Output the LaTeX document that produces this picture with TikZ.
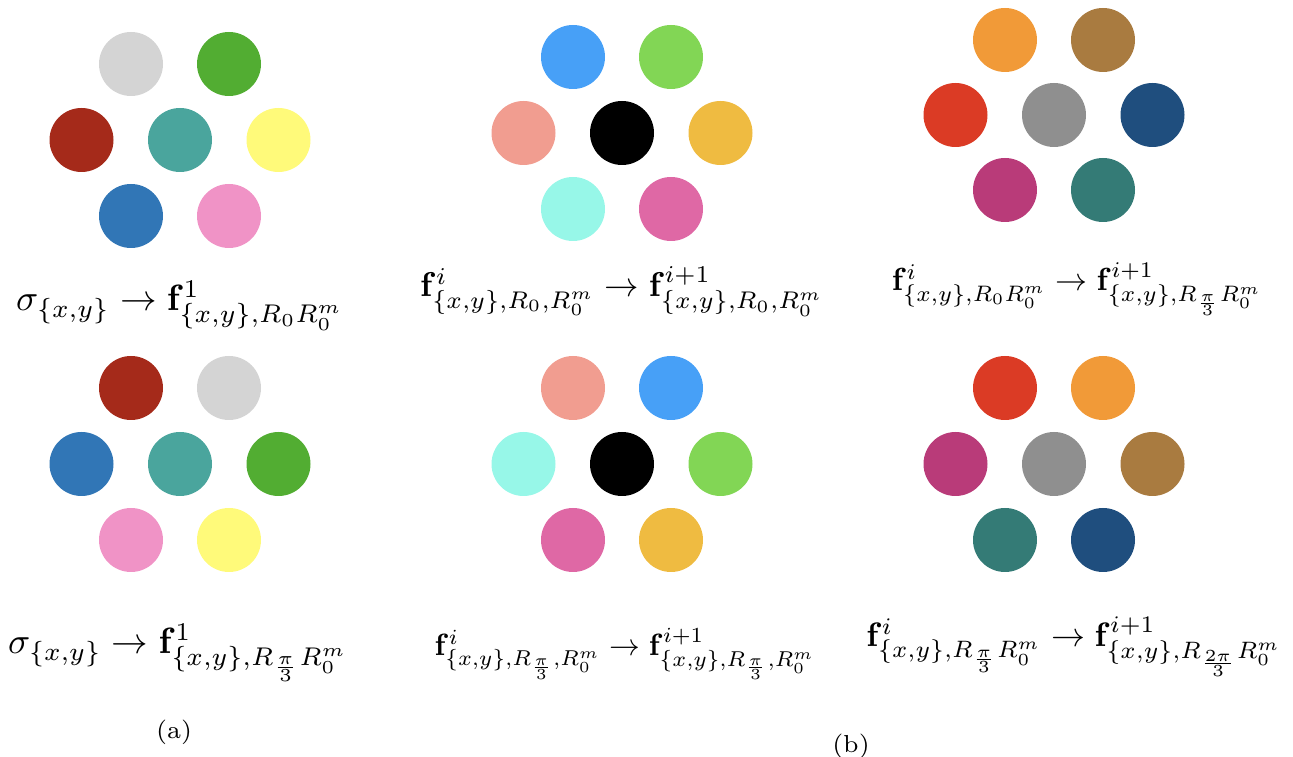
\documentclass[tikz,border=0pt]{standalone}
\usepackage{amsmath,amssymb}
\usepackage{xcolor}
\usepackage{tikz}
\definecolor{pale}{HTML}{D4D4D4}
\definecolor{grass}{HTML}{52AD32}
\definecolor{brick}{HTML}{A52A1A}
\definecolor{teal1}{HTML}{4AA59D}
\definecolor{lemon}{HTML}{FFFA7A}
\definecolor{steel}{HTML}{3176B6}
\definecolor{rose}{HTML}{F093C6}
\definecolor{sky}{HTML}{47A0F7}
\definecolor{lime}{HTML}{82D655}
\definecolor{salmon}{HTML}{F19D90}
\definecolor{mustard}{HTML}{EFBB41}
\definecolor{aqua}{HTML}{97F7E8}
\definecolor{orchid}{HTML}{DF68A5}
\definecolor{tangerine}{HTML}{F19A38}
\definecolor{bronze}{HTML}{A97B40}
\definecolor{scarlet}{HTML}{DB3B25}
\definecolor{ash}{HTML}{8F8F8F}
\definecolor{navy1}{HTML}{1F4E7E}
\definecolor{berry}{HTML}{B93B79}
\definecolor{pine}{HTML}{347B76}

\begin{document}
\begin{tikzpicture}[x=1cm,y=1cm,
  dot/.style={circle,minimum size=6.4mm,inner sep=0pt},
  lab/.style={inner sep=0pt,anchor=base,transform shape},
  subcap/.style={font=\scriptsize,inner sep=0pt}]
\useasboundingbox (0,0) rectangle (12.93,-7.57);
% (a), first row
\begin{scope}[shift={(1.80,-1.40)}]
 \node[dot,fill=pale] (atl) at (-0.49,0.76) {}; \node[dot,fill=grass] (atr) at (0.49,0.76) {};
 \node[dot,fill=brick] (al) at (-0.985,0) {}; \node[dot,fill=teal1] (ac) at (0,0) {}; \node[dot,fill=lemon] (ar) at (0.985,0) {};
 \node[dot,fill=steel] (abl) at (-0.49,-0.76) {}; \node[dot,fill=rose] (abr) at (0.49,-0.76) {};
 \node[lab,scale=1.04] (la) at (0,-1.71) {$\sigma_{\{x,y\}} \to \mathbf{f}^1_{\{x,y\},R_0R_0^m}$};
\end{scope}
% (a), second row
\begin{scope}[shift={(1.80,-4.64)}]
 \node[dot,fill=brick] (btl) at (-0.49,0.76) {}; \node[dot,fill=pale] (btr) at (0.49,0.76) {};
 \node[dot,fill=steel] (bl) at (-0.985,0) {}; \node[dot,fill=teal1] (bc) at (0,0) {}; \node[dot,fill=grass] (br) at (0.985,0) {};
 \node[dot,fill=rose] (bbl) at (-0.49,-0.76) {}; \node[dot,fill=lemon] (bbr) at (0.49,-0.76) {};
 \node[lab,scale=1.04] (lb) at (-0.02,-1.90) {$\sigma_{\{x,y\}} \to \mathbf{f}^1_{\{x,y\},R_{\frac{\pi}{3}}R_0^m}$};
\end{scope}
% (b), middle column
\begin{scope}[shift={(6.22,-1.33)}]
 \node[dot,fill=sky] (ctl) at (-0.49,0.76) {}; \node[dot,fill=lime] (ctr) at (0.49,0.76) {};
 \node[dot,fill=salmon] (cl) at (-0.985,0) {}; \node[dot,fill=black] (cc) at (0,0) {}; \node[dot,fill=mustard] (cr) at (0.985,0) {};
 \node[dot,fill=aqua] (cbl) at (-0.49,-0.76) {}; \node[dot,fill=orchid] (cbr) at (0.49,-0.76) {};
 \node[lab,scale=0.98] (lc) at (0,-1.64) {$\mathbf{f}^i_{\{x,y\},R_0,R_0^m} \to \mathbf{f}^{i+1}_{\{x,y\},R_0,R_0^m}$};
\end{scope}
\begin{scope}[shift={(6.22,-4.64)}]
 \node[dot,fill=salmon] (dtl) at (-0.49,0.76) {}; \node[dot,fill=sky] (dtr) at (0.49,0.76) {};
 \node[dot,fill=aqua] (dl) at (-0.985,0) {}; \node[dot,fill=black] (dc) at (0,0) {}; \node[dot,fill=lime] (dr) at (0.985,0) {};
 \node[dot,fill=orchid] (dbl) at (-0.49,-0.76) {}; \node[dot,fill=mustard] (dbr) at (0.49,-0.76) {};
 \node[lab,scale=0.875] (ld) at (0.03,-1.92) {$\mathbf{f}^i_{\{x,y\},R_{\frac{\pi}{3}},R_0^m} \to \mathbf{f}^{i+1}_{\{x,y\},R_{\frac{\pi}{3}},R_0^m}$};
\end{scope}
% (b), right column
\begin{scope}[shift={(10.54,-1.15)}]
 \node[dot,fill=tangerine] (etl) at (-0.49,0.75) {}; \node[dot,fill=bronze] (etr) at (0.49,0.75) {};
 \node[dot,fill=scarlet] (el) at (-0.985,0) {}; \node[dot,fill=ash] (ec) at (0,0) {}; \node[dot,fill=navy1] (er) at (0.985,0) {};
 \node[dot,fill=berry] (ebl) at (-0.49,-0.75) {}; \node[dot,fill=pine] (ebr) at (0.49,-0.75) {};
 \node[lab,scale=0.91] (le) at (0.23,-1.76) {$\mathbf{f}^i_{\{x,y\},R_0R_0^m} \to \mathbf{f}^{i+1}_{\{x,y\},R_{\frac{\pi}{3}}R_0^m}$};
\end{scope}
\begin{scope}[shift={(10.54,-4.64)}]
 \node[dot,fill=scarlet] (ftl) at (-0.49,0.76) {}; \node[dot,fill=tangerine] (ftr) at (0.49,0.76) {};
 \node[dot,fill=berry] (fl) at (-0.985,0) {}; \node[dot,fill=ash] (fc) at (0,0) {}; \node[dot,fill=bronze] (fr) at (0.985,0) {};
 \node[dot,fill=pine] (fbl) at (-0.49,-0.76) {}; \node[dot,fill=navy1] (fbr) at (0.49,-0.76) {};
 \node[lab,scale=0.965] (lf) at (0.20,-1.83) {$\mathbf{f}^i_{\{x,y\},R_{\frac{\pi}{3}}R_0^m} \to \mathbf{f}^{i+1}_{\{x,y\},R_{\frac{2\pi}{3}}R_0^m}$};
\end{scope}
\node[subcap] (capa) at (1.74,-7.32) {(a)};
\node[subcap] (capb) at (8.51,-7.46) {(b)};
\end{tikzpicture}
\end{document}
